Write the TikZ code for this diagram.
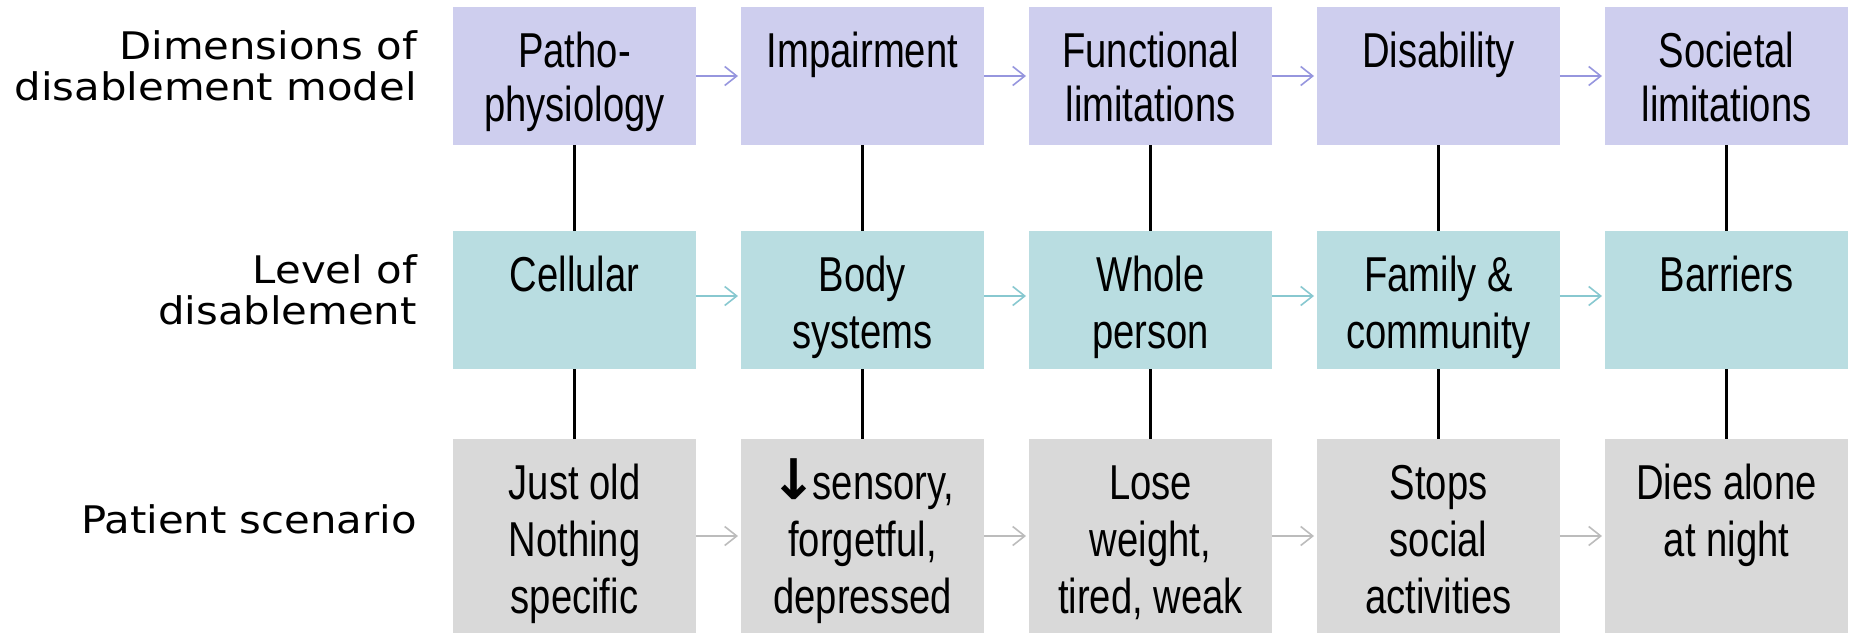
\documentclass[tikz,border=0pt]{standalone}
\usepackage{fontspec}
\usetikzlibrary{arrows.meta}
\setmainfont{Liberation Sans}[FakeStretch=0.78]
\newfontfamily\labelfont{DejaVu Sans}[FakeStretch=1.1]
\newfontfamily\symfont{DejaVu Sans}

\definecolor{dimfill}{RGB}{206,206,238}
\definecolor{dimline}{RGB}{150,150,222}
\definecolor{lvlfill}{RGB}{185,221,225}
\definecolor{lvlline}{RGB}{136,200,208}
\definecolor{scnfill}{RGB}{217,217,217}
\definecolor{scnline}{RGB}{188,188,188}

% box contents: fixed-size parbox, first baseline 60pt below the top
\newcommand\celltext[3]{\parbox[t][#1pt][t]{243pt}{\centering\baselineskip=#2pt\rule{0pt}{60pt}#3}}
\newcommand\sidetext[1]{\rule{0pt}{30pt}#1}
\newcommand\downmark{{\symfont\bfseries\fontsize{56pt}{56pt}\selectfont ↓}\kern-5pt}

\tikzset{
  cellbox/.style={rectangle, inner sep=0pt, outer sep=0pt, draw=none,
    font=\fontsize{49pt}{56pt}\selectfont},
  dimbox/.style={cellbox, fill=dimfill},
  lvlbox/.style={cellbox, fill=lvlfill},
  scnbox/.style={cellbox, fill=scnfill},
  sidelabel/.style={inner sep=0pt, anchor=north east, align=right,
    font=\labelfont\fontsize{38pt}{41pt}\selectfont},
  vlink/.style={line width=2.5pt, black},
  hlink/.style={line width=1.6pt, -{Straight Barb[length=12pt,width=19pt]}},
}

\begin{document}
\begin{tikzpicture}[x=1pt, y=-1pt]
\useasboundingbox (0,0) rectangle (1850,633);

% row labels
\node[sidelabel] (lab1) at (417,29) {\sidetext{Dimensions of}\\disablement model};
\node[sidelabel] (lab2) at (417,253) {\sidetext{Level of}\\disablement};
\node[sidelabel] (lab3) at (417,503) {\sidetext{Patient scenario}};

% dimensions of disablement model
\node[dimbox] (d1) at (574.5,76) {\celltext{138}{54}{Patho-\\physiology}};
\node[dimbox] (d2) at (862.5,76) {\celltext{138}{54}{Impairment}};
\node[dimbox] (d3) at (1150.5,76) {\celltext{138}{54}{Functional\\limitations}};
\node[dimbox] (d4) at (1438.5,76) {\celltext{138}{54}{Disability}};
\node[dimbox] (d5) at (1726.5,76) {\celltext{138}{54}{Societal\\limitations}};

% level of disablement
\node[lvlbox] (l1) at (574.5,300) {\celltext{138}{57}{Cellular}};
\node[lvlbox] (l2) at (862.5,300) {\celltext{138}{57}{Body\\systems}};
\node[lvlbox] (l3) at (1150.5,300) {\celltext{138}{57}{Whole\\person}};
\node[lvlbox] (l4) at (1438.5,300) {\celltext{138}{57}{Family \&\\community}};
\node[lvlbox] (l5) at (1726.5,300) {\celltext{138}{57}{Barriers}};

% patient scenario
\node[scnbox] (s1) at (574.5,536) {\celltext{194}{57}{Just old\\Nothing\\specific}};
\node[scnbox] (s2) at (862.5,536) {\celltext{194}{57}{\downmark sensory,\\forgetful,\\depressed}};
\node[scnbox] (s3) at (1150.5,536) {\celltext{194}{57}{Lose\\weight,\\tired, weak}};
\node[scnbox] (s4) at (1438.5,536) {\celltext{194}{57}{Stops\\social\\activities}};
\node[scnbox] (s5) at (1726.5,536) {\celltext{194}{57}{Dies alone\\at night}};

% vertical links between rows
\foreach \i in {1,...,5}{
  \draw[vlink] (d\i.south) -- (l\i.north);
  \draw[vlink] (l\i.south) -- (s\i.north);
}

% horizontal arrows along each row
\foreach \i/\j in {1/2,2/3,3/4,4/5}{
  \draw[hlink, dimline] (d\i.east) -- ([xshift=-3pt]d\j.west);
  \draw[hlink, lvlline] ([yshift=4pt]l\i.east) -- ([xshift=-3pt,yshift=4pt]l\j.west);
  \draw[hlink, scnline] (s\i.east) -- ([xshift=-3pt]s\j.west);
}
\end{tikzpicture}
\end{document}
